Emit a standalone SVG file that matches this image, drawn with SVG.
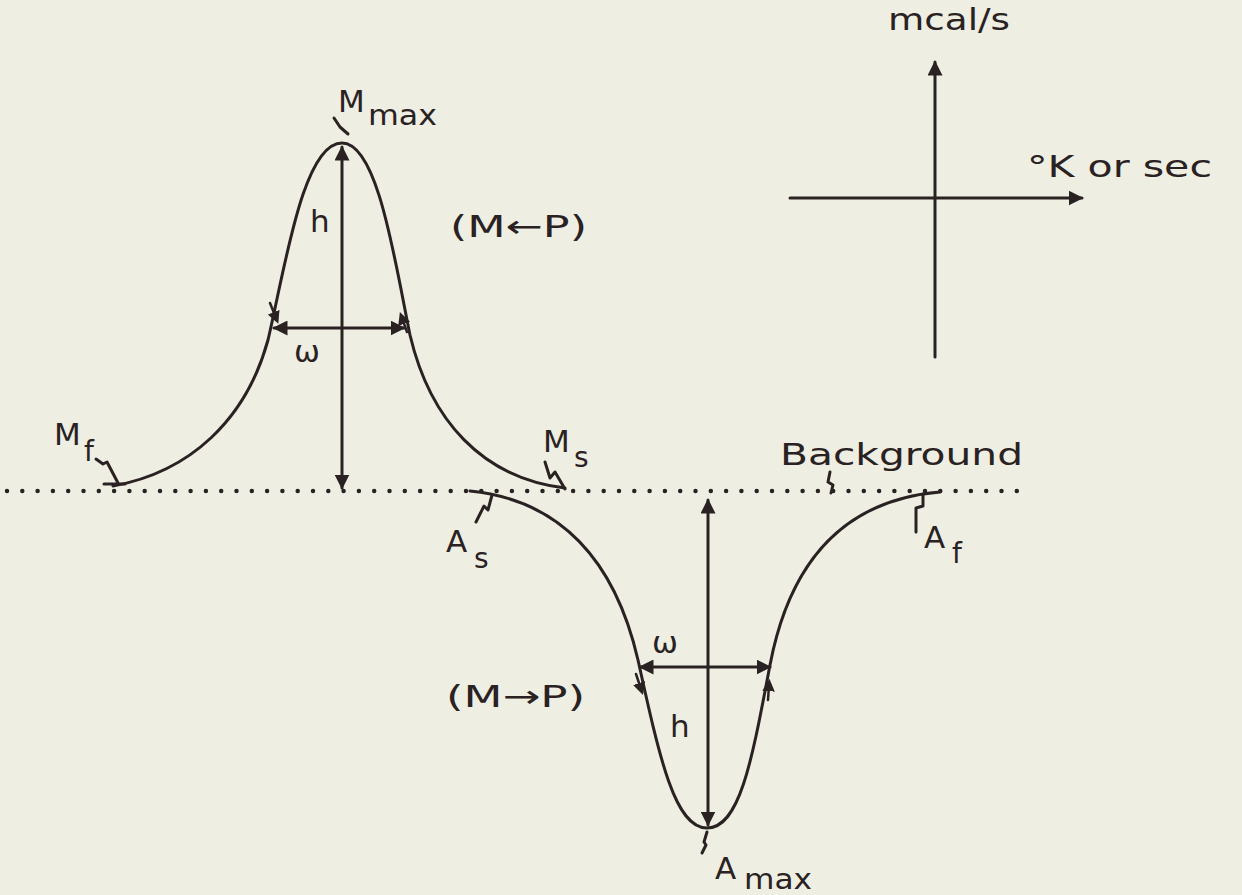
<svg xmlns="http://www.w3.org/2000/svg" width="1242" height="895" viewBox="0 0 1242 895">
<defs>
<marker id="ah" viewBox="0 0 10 10" refX="9" refY="5" markerWidth="5" markerHeight="5" orient="auto-start-reverse" markerUnits="strokeWidth">
<path d="M0,0 L10,5 L0,10 Z" fill="#2a2222"/>
</marker>
<marker id="sh" viewBox="0 0 10 10" refX="5" refY="5" markerWidth="5" markerHeight="5" orient="auto" markerUnits="strokeWidth">
<path d="M0,0 L10,5 L0,10 Z" fill="#2a2222"/>
</marker>
<style>
.ink{stroke:#2a2222;fill:none;stroke-width:3;stroke-linecap:round;stroke-linejoin:round}
.thin{stroke:#2a2222;fill:none;stroke-width:2.5;stroke-linecap:round;stroke-linejoin:round}
.dots{stroke:#2a2222;fill:none;stroke-width:4.5;stroke-linecap:round;stroke-dasharray:0 15.3}
.t{font-family:"DejaVu Sans",sans-serif;font-size:31px;fill:#2a2222}
.s{font-family:"DejaVu Sans",sans-serif;font-size:28px;fill:#2a2222}
</style>
</defs>
<rect width="1242" height="895" fill="#eeeee3"/>

<g id="background-line">
<line class="dots" x1="7" y1="491" x2="1032" y2="491"/>
</g>

<g id="axes">
<line class="ink" x1="935" y1="357" x2="935" y2="62" marker-end="url(#ah)"/>
<line class="ink" x1="790" y1="198" x2="1082" y2="198" marker-end="url(#ah)"/>
<text class="t" x="888" y="30" textLength="122" lengthAdjust="spacingAndGlyphs">mcal/s</text>
<text class="t" x="1027" y="177" textLength="185" lengthAdjust="spacingAndGlyphs">°K or sec</text>
</g>

<g id="peak-m">
<path class="ink" d="M113,486 C190,472 246,420 268,340 C285,268 303,143 342,143 C378,143 395,262 410,335 C430,420 482,478 565,488"/>
<path class="thin" d="M270,303 L276,318" marker-end="url(#sh)"/>
<path class="thin" d="M407,332 L402,318" marker-end="url(#sh)"/>
</g>

<g id="trough-a">
<path class="ink" d="M470,491 C560,500 615,560 638,660 C660,760 675,828 707,828 C740,828 752,760 770,665 C790,560 845,500 940,492"/>
<path class="thin" d="M636,674 L641,689" marker-end="url(#sh)"/>
<path class="thin" d="M768,700 L769,685" marker-end="url(#sh)"/>
</g>

<g id="connectors">
<line class="ink" x1="342" y1="147" x2="342" y2="488" marker-start="url(#ah)" marker-end="url(#ah)"/>
<line class="ink" x1="274" y1="328" x2="404" y2="328" marker-start="url(#ah)" marker-end="url(#ah)"/>
<line class="ink" x1="708" y1="500" x2="708" y2="825" marker-start="url(#ah)" marker-end="url(#ah)"/>
<line class="ink" x1="640" y1="667" x2="770" y2="667" marker-start="url(#ah)" marker-end="url(#ah)"/>
<polyline class="ink" points="334,118 340,127 348,134"/>
<polyline class="ink" points="96,459 103,464 107,462 118,483"/>
<line class="ink" x1="104" y1="484" x2="125" y2="484"/>
<polyline class="ink" points="545,462 550,478 555,472 565,489"/>
<polyline class="ink" points="492,495 488,510 484,506 476,522"/>
<polyline class="ink" points="830,472 828,482 833,485 831,493"/>
<polyline class="ink" points="923,494 923,506 916,508 916,532"/>
<polyline class="ink" points="707,832 704,842 706,845 702,853"/>
</g>

<g id="labels">
<text class="t" x="338" y="112">M</text>
<text class="s" x="368" y="125" textLength="69" lengthAdjust="spacingAndGlyphs">max</text>
<text class="t" x="310" y="232">h</text>
<text class="t" x="450" y="237" textLength="137" lengthAdjust="spacingAndGlyphs">(M←P)</text>
<text class="t" x="294" y="362">ω</text>
<text class="t" x="54" y="445">M</text>
<text class="s" x="84" y="461">f</text>
<text class="t" x="543" y="452">M</text>
<text class="s" x="574" y="467">s</text>
<text class="t" x="780" y="465" textLength="243" lengthAdjust="spacingAndGlyphs">Background</text>
<text class="t" x="446" y="552">A</text>
<text class="s" x="474" y="568">s</text>
<text class="t" x="924" y="548">A</text>
<text class="s" x="952" y="563">f</text>
<text class="t" x="652" y="653">ω</text>
<text class="t" x="446" y="707" textLength="139" lengthAdjust="spacingAndGlyphs">(M→P)</text>
<text class="t" x="670" y="737">h</text>
<text class="t" x="715" y="879">A</text>
<text class="s" x="744" y="889" textLength="68" lengthAdjust="spacingAndGlyphs">max</text>
</g>
</svg>
